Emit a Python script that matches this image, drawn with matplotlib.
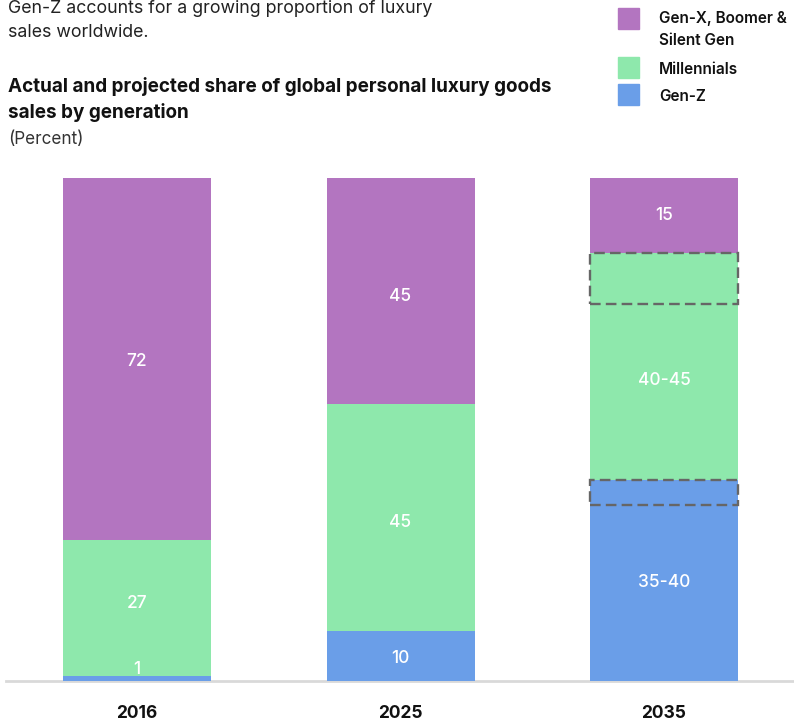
import matplotlib
matplotlib.use("Agg")
import matplotlib.pyplot as plt
from matplotlib.patches import Rectangle

plt.rcParams['font.family'] = ['Inter', 'DejaVu Sans']

# share of global personal luxury goods sales, percent
years = ['2016', '2025', '2035']
gen_z = [1, 10, 40]
millennials = [27, 45, 45]
older = [72, 45, 15]
labels_gen_z = ['1', '10', '35-40']
labels_millennials = ['27', '45', '40-45']
labels_older = ['72', '45', '15']
# where the printed value sits on each bar
label_y_gen_z = [2.2, 4.5, 19.5]
label_y_millennials = [15.5, 31.5, 59.8]
label_y_older = [63.6, 76.5, 92.5]
# uncertainty bands on the 2035 projection (bottom, top)
ranges_2035 = [(35, 40), (75, 85)]

series_names = ['Gen-X, Boomer &\nSilent Gen', 'Millennials', 'Gen-Z']
c_older = '#B375C0'
c_mill = '#8EE8AC'
c_genz = '#6A9EE8'

W, H = 794, 722
fig = plt.figure(figsize=(W / 100, H / 100), dpi=100)

def fx(px):
    return px / W

def fy(py):
    return 1 - py / H

# axes: y=0 at 681px, y=100 at 178px; bars centred at 137/400/664px
ax = fig.add_axes([fx(6), fy(681), fx(794 - 6), (681 - 178) / H])
step = 263.5
ax.set_xlim(-(137 - 6) / step, (794 - 137) / step)
ax.set_ylim(0, 100)
bw = 148 / step
x = range(len(years))

bottom_mill = gen_z
bottom_older = [a + b for a, b in zip(gen_z, millennials)]
# 2035 green segment runs up to 85 (top of the range band)
bottom_older[2] = 85
mill_heights = [millennials[0], millennials[1], 85 - gen_z[2]]

ax.bar(x, gen_z, width=bw, color=c_genz, zorder=3)
ax.bar(x, mill_heights, width=bw, bottom=bottom_mill, color=c_mill, zorder=3)
ax.bar(x, older, width=bw, bottom=bottom_older, color=c_older, zorder=3)

for lo, hi in ranges_2035:
    ax.add_patch(Rectangle((2 - bw / 2, lo), bw, hi - lo, fill=False,
                           edgecolor='#666666', linestyle=(0, (4.5, 2.2)),
                           linewidth=1.7, zorder=4))

for i in x:
    for txt, yy in ((labels_gen_z[i], label_y_gen_z[i]),
                    (labels_millennials[i], label_y_millennials[i]),
                    (labels_older[i], label_y_older[i])):
        ax.text(i, yy, txt, ha='center', va='center', color='white',
                fontsize=12.5, fontweight='medium', zorder=5)

ax.axhline(0, color='#d9d9d9', linewidth=2, zorder=1, clip_on=False)
for s in ax.spines.values():
    s.set_visible(False)
ax.set_xticks([])
ax.set_yticks([])

for i, yr in enumerate(years):
    fig.text(fx(137 + i * step), fy(718), yr, ha='center', va='baseline',
             fontsize=12.5, fontweight='bold', color='#111111')

# headings
fig.text(fx(8), fy(13), 'Gen-Z accounts for a growing proportion of luxury',
         fontsize=12.8, color='#222222', va='baseline')
fig.text(fx(8), fy(37), 'sales worldwide.', fontsize=12.8, color='#222222',
         va='baseline')
fig.text(fx(8), fy(92), 'Actual and projected share of global personal luxury goods',
         fontsize=13.6, fontweight='bold', color='#111111', va='baseline')
fig.text(fx(8), fy(118), 'sales by generation', fontsize=13.6,
         fontweight='bold', color='#111111', va='baseline')
fig.text(fx(8), fy(144), '(Percent)', fontsize=12.3, color='#333333',
         va='baseline')

# legend
legend_colors = [c_older, c_mill, c_genz]
box_tops = [8, 57, 84]
text_base = [[23, 45], [74], [101]]
for name, col, top, bases in zip(series_names, legend_colors, box_tops, text_base):
    fig.patches.append(Rectangle((fx(618), fy(top + 21)), 21 / W, 21 / H,
                                 color=col, transform=fig.transFigure))
    for line, b in zip(name.split('\n'), bases):
        fig.text(fx(659), fy(b), line, fontsize=11, fontweight='semibold',
                 color='#111111', va='baseline')

fig.savefig('out.png', dpi=100)
